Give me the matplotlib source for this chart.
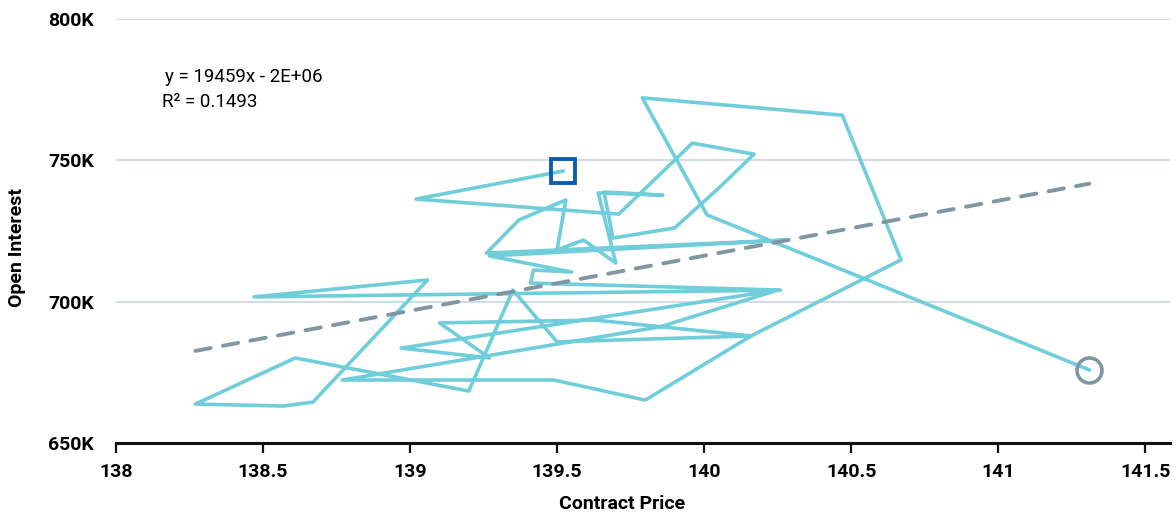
import matplotlib.pyplot as plt
from matplotlib.ticker import FuncFormatter

# contract price vs open interest, in trading order
price = [139.52, 139.02, 139.71, 139.96, 140.17, 140.05, 139.90, 139.69, 139.66, 139.86,
         139.64, 139.70, 139.59, 139.50, 139.53, 139.37, 139.26, 140.28, 139.27, 139.55,
         139.42, 139.41, 140.26, 138.47, 139.06, 138.67, 138.57, 138.27, 138.61, 139.20,
         139.35, 139.50, 140.16, 139.63, 139.10, 139.27, 138.97, 140.25, 139.85, 138.77,
         139.49, 139.80, 140.16, 140.67, 140.47, 139.79, 140.01, 141.31]
open_interest = [746200, 736300, 731000, 756100, 752200, 740200, 726100, 722500, 738800, 737700,
                 738500, 713700, 721800, 718300, 736000, 728900, 717200, 721800, 716200, 710500,
                 711200, 706600, 704100, 701700, 707700, 664500, 663100, 663800, 680100, 668400,
                 704100, 685800, 687900, 693500, 692500, 680100, 683600, 704100, 691100, 672300,
                 672300, 665200, 687900, 714800, 766000, 772100, 730700, 675900]

# linear trend (excel style)
slope = 19459
intercept = -2008000
r_squared = 0.1493

x_ticks = [138, 138.5, 139, 139.5, 140, 140.5, 141, 141.5]
y_ticks = [650000, 700000, 750000, 800000]

plt.rcParams['font.family'] = ['Roboto', 'DejaVu Sans']

fig = plt.figure(figsize=(11.76, 5.14), dpi=100)
ax = fig.add_axes([0.0986, 0.138, 0.8964, 0.825])

ax.plot(price, open_interest, color='#70CDDA', lw=2.6, zorder=2)

# first and last point
ax.plot(price[0], open_interest[0], marker='s', ms=17.5, mfc='none', mec='#0D5EAF', mew=2.8, zorder=4)
ax.plot(price[-1], open_interest[-1], marker='o', ms=18, mfc='none', mec='#7E97A3', mew=2.6, zorder=4)

# trend line over the price range
x0, x1 = min(price), max(price)
ax.plot([x0, x1], [slope * x0 + intercept, slope * x1 + intercept],
        color='#7E97A3', lw=2.8, dashes=(4, 3.2), dash_capstyle='round', zorder=3)

ax.set_xlim(138, 141.585)
ax.set_ylim(650000, 800000)
ax.set_xticks(x_ticks)
ax.set_xticklabels([f'{t:g}' for t in x_ticks])
ax.set_yticks(y_ticks)
ax.yaxis.set_major_formatter(FuncFormatter(lambda v, p: f'{v / 1000:.0f}K'))

for s in ['top', 'right', 'left']:
    ax.spines[s].set_visible(False)
ax.spines['bottom'].set_linewidth(2.2)
ax.spines['bottom'].set_color('#111111')

ax.grid(axis='y', color='#D3DCE4', lw=1.5)
ax.set_axisbelow(True)
ax.tick_params(axis='y', length=0, pad=16, labelsize=14)
ax.tick_params(axis='x', length=7, width=1.6, color='#111111', pad=7, labelsize=14)
for lbl in ax.get_xticklabels() + ax.get_yticklabels():
    lbl.set_fontweight('bold')

ax.set_xlabel('Contract Price', fontsize=14, fontweight='bold')
ax.xaxis.set_label_coords(0.48, -0.122)
ax.set_ylabel('Open Interest', fontsize=14, fontweight='bold')
ax.yaxis.set_label_coords(-0.085, 0.462)

fig.text(165 / 1176, 1 - 77 / 514, f'y = {slope}x - 2E+06', fontsize=13.5, ha='left', va='center')
fig.text(162 / 1176, 1 - 102 / 514, f'R² = {r_squared}', fontsize=13.5, ha='left', va='center')

fig.savefig('out.png', dpi=100)
